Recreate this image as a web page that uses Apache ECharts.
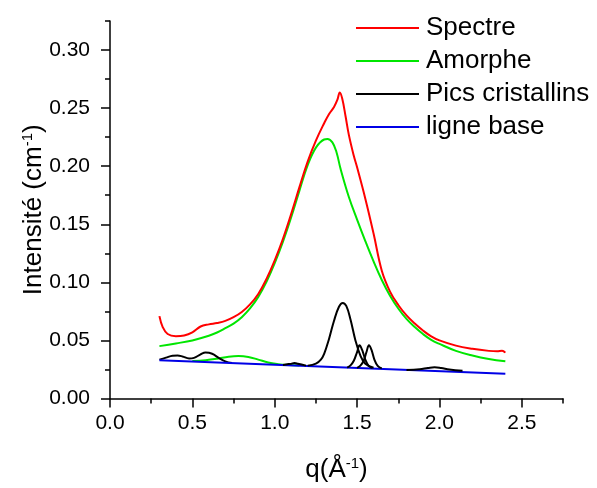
<!DOCTYPE html>
<html>
<head>
<meta charset="utf-8">
<script src="https://cdn.jsdelivr.net/npm/echarts@6/dist/echarts.min.js"></script>
<style>
html,body{margin:0;padding:0;background:#fff;}
#c{width:597px;height:488px;}
</style>
</head>
<body>
<div id="c"></div>
<script>
// ---- data ----
const xMajor = [0, 0.5, 1.0, 1.5, 2.0, 2.5];
const xMinor = [0.25, 0.75, 1.25, 1.75, 2.25, 2.75];
const yMajor = [0, 0.05, 0.10, 0.15, 0.20, 0.25, 0.30];
const yMinor = [0.025, 0.075, 0.125, 0.175, 0.225, 0.275, 0.325];

const spectreQ = [0.30,0.32,0.35,0.40,0.45,0.50,0.55,0.60,0.65,0.70,0.75,0.80,0.85,0.90,0.95,1.00,1.05,1.10,1.15,1.20,1.25,1.30,1.33,1.36,1.38,1.395,1.41,1.43,1.45,1.48,1.50,1.55,1.60,1.65,1.70,1.75,1.80,1.85,1.90,1.95,2.00,2.10,2.20,2.30,2.35,2.38,2.40];
const spectreI = [0.0709,0.0615,0.0555,0.0537,0.0543,0.0570,0.0620,0.0638,0.0650,0.0668,0.0700,0.0745,0.0810,0.0900,0.1030,0.1190,0.1375,0.1590,0.1820,0.2040,0.2220,0.2370,0.2450,0.2510,0.2570,0.2634,0.2580,0.2430,0.2270,0.2090,0.1990,0.1720,0.1420,0.1100,0.0920,0.0805,0.0715,0.0645,0.0585,0.0535,0.0500,0.0455,0.0428,0.0410,0.0406,0.0412,0.0395];

const amorpheQ = [0.30,0.40,0.50,0.60,0.65,0.70,0.75,0.80,0.85,0.90,0.95,1.00,1.05,1.10,1.15,1.20,1.25,1.30,1.32,1.35,1.375,1.40,1.45,1.50,1.55,1.60,1.65,1.70,1.75,1.80,1.85,1.90,1.95,2.00,2.10,2.20,2.30,2.40];
const amorpheI = [0.0451,0.0474,0.0500,0.0540,0.0568,0.0605,0.0645,0.0700,0.0775,0.0875,0.1005,0.1165,0.1350,0.1560,0.1790,0.2010,0.2160,0.2230,0.2234,0.2205,0.2120,0.1975,0.1735,0.1540,0.1355,0.1180,0.1020,0.0885,0.0775,0.0685,0.0615,0.0555,0.0505,0.0470,0.0410,0.0370,0.0340,0.0320];

// small broad green bump near the baseline
const amorBumpQ = [0.50,0.58,0.65,0.72,0.78,0.84,0.90,0.96,1.02,1.08,1.15];
const amorBumpI = [0.0322,0.0330,0.0343,0.0360,0.0366,0.0358,0.0335,0.0310,0.0296,0.0288,0.0284];

// crystalline peaks (black)
const pLowQ = [0.30,0.34,0.38,0.41,0.44,0.48,0.51,0.55,0.58,0.62,0.66,0.70,0.74];
const pLowI = [0.0335,0.0352,0.0368,0.0370,0.0362,0.0345,0.0350,0.0380,0.0395,0.0385,0.0350,0.0320,0.0305];
const p112Q = [1.05,1.10,1.12,1.14,1.19];
const p112I = [0.0289,0.0300,0.0305,0.0300,0.0283];
const p141Q = [1.20,1.25,1.28,1.30,1.33,1.36,1.39,1.413,1.435,1.46,1.49,1.52,1.55,1.60];
const p141I = [0.0283,0.0300,0.0335,0.0385,0.0515,0.0670,0.0790,0.0823,0.0795,0.0680,0.0500,0.0370,0.0300,0.0265];
const p152Q = [1.44,1.46,1.48,1.50,1.515,1.53,1.55,1.57,1.59];
const p152I = [0.0266,0.0285,0.0325,0.0400,0.0458,0.0420,0.0335,0.0282,0.0262];
const p157Q = [1.50,1.52,1.54,1.557,1.572,1.587,1.605,1.625,1.65];
const p157I = [0.0264,0.0283,0.0325,0.0400,0.0458,0.0420,0.0335,0.0280,0.0259];
const p197Q = [1.80,1.88,1.93,1.97,2.01,2.06,2.14];
const p197I = [0.0245,0.0252,0.0262,0.0268,0.0262,0.0250,0.0238];

const baseQ = [0.30, 2.40];
const baseI = [0.0330, 0.0214];

const legendNames = ['Spectre', 'Amorphe', 'Pics cristallins', 'ligne base'];

// ---- chart ----
const zip = (a, b) => a.map((v, k) => [v, b[k]]);
const FONT = '"Liberation Sans", Arial, sans-serif';
const RED = '#ff0000', GREEN = '#00e600', BLACK = '#000000', BLUE = '#0000e6';

function line(name, q, i, color, z) {
  return {
    type: 'line', name: name, data: zip(q, i),
    xAxisIndex: 0, yAxisIndex: 0,
    symbol: 'none', showSymbol: false, smooth: 0.4,
    lineStyle: {color: color, width: 2}, itemStyle: {color: color},
    z: z || 2, animation: false
  };
}

const chart = echarts.init(document.getElementById('c'), null, {renderer: 'canvas'});
chart.setOption({
  animation: false,
  backgroundColor: '#ffffff',
  textStyle: {fontFamily: FONT},
  grid: {left: 110, right: 34, top: 21, bottom: 88, containLabel: false},
  legend: {
    data: legendNames,
    orient: 'vertical',
    left: 351, top: 10,
    icon: 'rect',
    itemWidth: 63, itemHeight: 2, itemGap: 7,
    textStyle: {fontSize: 26, color: '#000', fontFamily: FONT, padding: [0,0,0,2]}
  },
  xAxis: [{
    type: 'value', min: 0, max: 2.75, interval: 0.25,
    name: 'q(Å{sup|-1})', nameLocation: 'middle', nameGap: 58, nameMoveOverlap: false,
    nameTextStyle: {fontSize: 26, color: '#000', fontFamily: FONT,
      rich: {sup: {fontSize: 15, verticalAlign: 'top', padding: [0,0,12,0], color: '#000'}}},
    axisLine: {show: true, onZero: false, lineStyle: {color: '#000', width: 1.5}},
    axisTick: {show: true, inside: false, length: 9, customValues: xMajor, lineStyle: {color: '#000', width: 1.5}},
    axisLabel: {show: true, margin: 14, fontSize: 21, color: '#000', fontFamily: FONT,
      customValues: xMajor, formatter: v => v.toFixed(1)},
    splitLine: {show: false}
  }, {
    type: 'value', min: 0, max: 2.75, position: 'bottom',
    axisLine: {show: false},
    axisTick: {show: true, inside: false, length: 5, customValues: xMinor, lineStyle: {color: '#000', width: 1.5}},
    axisLabel: {show: false},
    splitLine: {show: false}
  }],
  yAxis: [{
    type: 'value', min: 0, max: 0.325, interval: 0.025,
    name: 'Intensité (cm{sup|-1})', nameLocation: 'middle', nameGap: 63, nameRotate: 90, nameMoveOverlap: false,
    nameTextStyle: {fontSize: 26, color: '#000', fontFamily: FONT,
      rich: {sup: {fontSize: 15, verticalAlign: 'top', padding: [0,0,12,0], color: '#000'}}},
    axisLine: {show: true, onZero: false, lineStyle: {color: '#000', width: 1.5}},
    axisTick: {show: true, inside: false, length: 9, customValues: yMajor, lineStyle: {color: '#000', width: 1.5}},
    axisLabel: {show: true, margin: 20, fontSize: 21, color: '#000', fontFamily: FONT,
      customValues: yMajor, formatter: v => v.toFixed(2)},
    splitLine: {show: false}
  }, {
    type: 'value', min: 0, max: 0.325, position: 'left',
    axisLine: {show: false},
    axisTick: {show: true, inside: false, length: 5, customValues: yMinor, lineStyle: {color: '#000', width: 1.5}},
    axisLabel: {show: false},
    splitLine: {show: false}
  }],
  series: [
    line('Spectre', spectreQ, spectreI, RED, 5),
    line('Amorphe', amorpheQ, amorpheI, GREEN, 4),
    line('Pics cristallins', pLowQ, pLowI, BLACK, 3),
    line('ligne base', baseQ, baseI, BLUE, 3),
    line('Amorphe', amorBumpQ, amorBumpI, GREEN, 2),
    line('Pics cristallins', p112Q, p112I, BLACK, 3),
    line('Pics cristallins', p141Q, p141I, BLACK, 3),
    line('Pics cristallins', p152Q, p152I, BLACK, 3),
    line('Pics cristallins', p157Q, p157I, BLACK, 3),
    line('Pics cristallins', p197Q, p197I, BLACK, 3)
  ]
});
</script>
</body>
</html>
